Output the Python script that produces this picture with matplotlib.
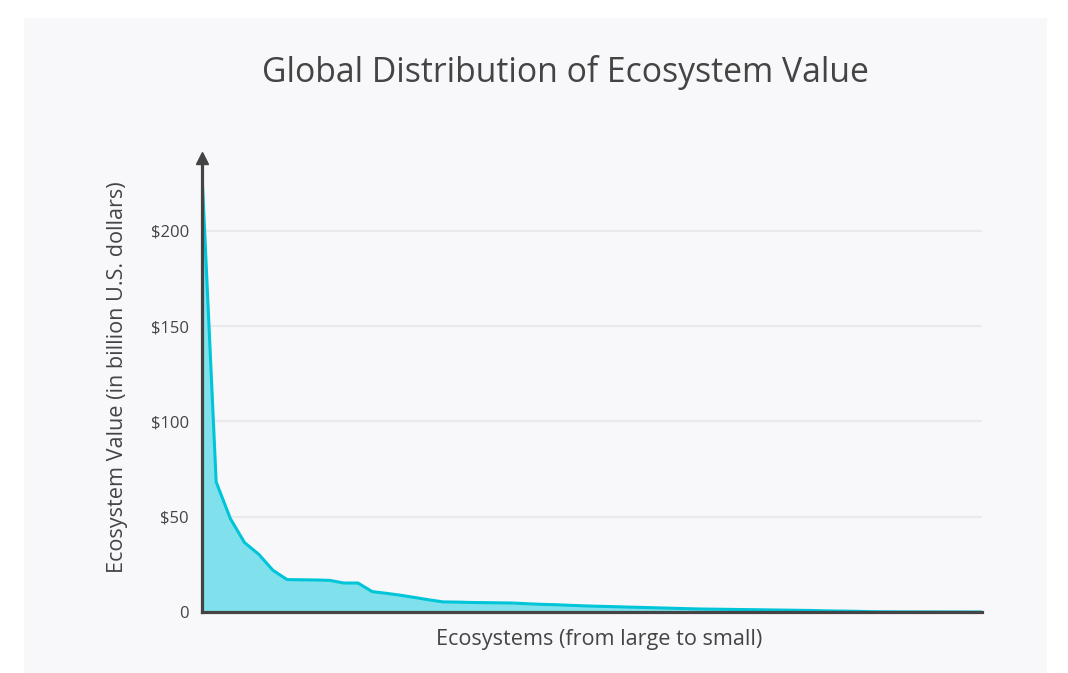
import matplotlib
matplotlib.use("Agg")
import matplotlib.pyplot as plt
from matplotlib.patches import Rectangle
import numpy as np

# Ecosystem values sorted from largest to smallest (billion U.S. dollars)
values = [
    230.0, 68.2, 49.0, 36.4, 30.3, 21.9, 17.0, 16.9, 16.8, 16.6,
    15.2, 15.2, 10.7, 9.8, 8.8, 7.6, 6.4, 5.3, 5.2, 5.0,
    4.9, 4.8, 4.7, 4.3, 4.0, 3.8, 3.5, 3.2, 3.0, 2.8,
    2.6, 2.4, 2.2, 2.0, 1.8, 1.6, 1.5, 1.4, 1.3, 1.2,
    1.1, 1.0, 0.9, 0.8, 0.6, 0.5, 0.4, 0.2, 0.1, 0.08,
    0.06, 0.05, 0.04, 0.03, 0.02, 0.01,
]
tick_values = [0, 50, 100, 150, 200]
tick_labels = ["0", "$50", "$100", "$150", "$200"]

title = "Global Distribution of Ecosystem Value"
xlabel = "Ecosystems (from large to small)"
ylabel = "Ecosystem Value (in billion U.S. dollars)"

plt.rcParams["font.family"] = ["Open Sans", "DejaVu Sans"]

W, H = 1068, 673
fig = plt.figure(figsize=(W / 100, H / 100), dpi=100)
fig.patch.set_facecolor("white")

# light panel behind the chart
fig.patches.append(Rectangle((24 / W, 0), (1047 - 24) / W, (H - 18) / H,
                             transform=fig.transFigure, facecolor="#f8f8fa",
                             edgecolor="none", zorder=-10))

left, right, bottom_px, top_px = 202, 982, 612, 158
ax = fig.add_axes([left / W, 1 - bottom_px / H, (right - left) / W,
                   (bottom_px - top_px) / H])
ax.set_facecolor("none")

x = np.arange(len(values))
ax.fill_between(x, values, 0, color="#80e1ec", linewidth=0, zorder=2)
ax.plot(x, values, color="#00c5d8", linewidth=2.2, solid_joinstyle="round", zorder=3)

ax.set_xlim(0, len(values) - 1)
ax.set_ylim(0, 238.2)

ax.set_yticks(tick_values)
ax.set_yticklabels(tick_labels)
ax.set_xticks([])
ax.tick_params(axis="y", length=0, pad=9.5, labelsize=12, labelcolor="#444444")

for v in tick_values[1:]:
    ax.axhline(v, color="#e9e9ee", linewidth=1.6, zorder=1)

for side in ("top", "right"):
    ax.spines[side].set_visible(False)
for side in ("left", "bottom"):
    ax.spines[side].set_color("#444444")
    ax.spines[side].set_linewidth(2.3)
    ax.spines[side].set_zorder(5)

# arrow head on top of the value axis
ax.plot([0], [1.0], marker="^", markersize=8, color="#444444",
        transform=ax.get_xaxis_transform(), clip_on=False, zorder=6)

fig.text(565 / W, 1 - 73 / H, title, ha="center", va="center",
         fontsize=24.3, color="#444444")
fig.text(599.5 / W, 1 - 639 / H, xlabel, ha="center", va="center",
         fontsize=15.6, color="#444444")
fig.text(118 / W, 1 - 377 / H, ylabel, ha="center", va="center", rotation=90,
         fontsize=15.6, color="#444444")

fig.savefig("out.png", dpi=100, facecolor=fig.get_facecolor())
